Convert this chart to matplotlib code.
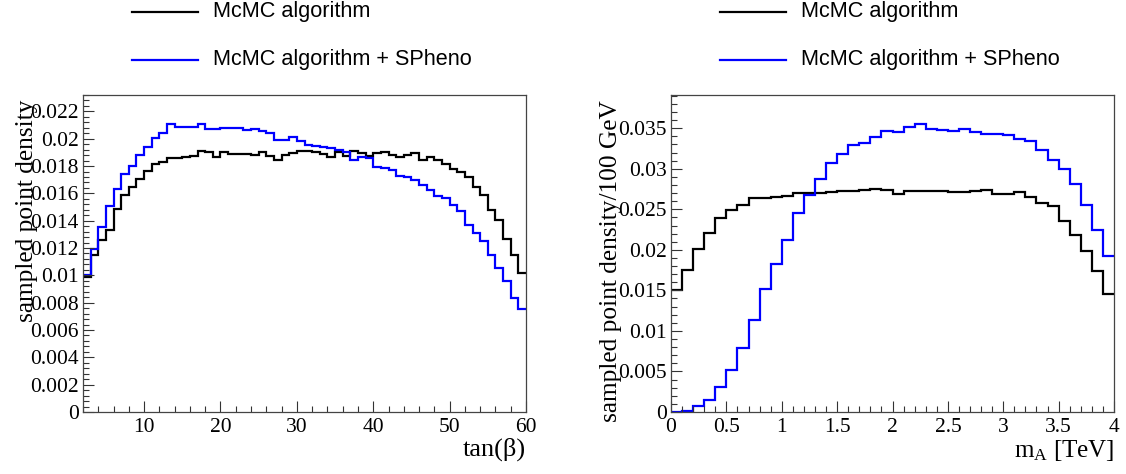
import numpy as np
import matplotlib
matplotlib.use("Agg")
import matplotlib.pyplot as plt
from matplotlib.ticker import MultipleLocator, FuncFormatter

# ---------------- data ----------------
tanb_edges = np.arange(2, 61, 1)
tanb_mcmc = [0.0099, 0.01146, 0.0126, 0.01334, 0.01488, 0.01585, 0.01646, 0.01705, 0.01766, 0.01817,
             0.0183, 0.01859, 0.01859, 0.01863, 0.0187, 0.01912, 0.019, 0.01863, 0.01905, 0.0189,
             0.0189, 0.01888, 0.01883, 0.01902, 0.0187, 0.01846, 0.01883, 0.01895, 0.01907, 0.01912,
             0.019, 0.01888, 0.01863, 0.019, 0.0187, 0.01907, 0.01895, 0.01876, 0.01895, 0.019,
             0.01883, 0.01863, 0.01883, 0.01895, 0.01846, 0.01863, 0.01846, 0.01817, 0.0178, 0.01754,
             0.0172, 0.01644, 0.0159, 0.01476, 0.01402, 0.01268, 0.01151, 0.01017]
tanb_spheno = [0.01005, 0.01195, 0.01356, 0.0151, 0.01632, 0.01744, 0.01802, 0.01883, 0.01937, 0.02005,
               0.02041, 0.02107, 0.02085, 0.02085, 0.02085, 0.02107, 0.0207, 0.0207, 0.02076, 0.02076,
               0.02078, 0.02066, 0.02072, 0.02054, 0.02040, 0.01993, 0.01993, 0.0201, 0.0198, 0.01956,
               0.0195, 0.0194, 0.0193, 0.0192, 0.0190, 0.01846, 0.01866, 0.0186, 0.01793, 0.01785,
               0.01773, 0.0173, 0.01717, 0.0170, 0.01663, 0.01627, 0.01583, 0.01566, 0.01517, 0.01473,
               0.01371, 0.0131, 0.01249, 0.01151, 0.01054, 0.00956, 0.00834, 0.00754]

mA_edges = np.round(np.arange(0, 4.01, 0.1), 2)
mA_mcmc = [0.015, 0.01754, 0.0201, 0.02206, 0.02391, 0.02486, 0.02555, 0.02638, 0.02638, 0.02658,
           0.02666, 0.02707, 0.027, 0.02707, 0.0271, 0.0272, 0.02728, 0.0274, 0.02749, 0.0274,
           0.02691, 0.02732, 0.02728, 0.02728, 0.02732, 0.02708, 0.02708, 0.02728, 0.0274, 0.02687,
           0.02687, 0.02708, 0.02646, 0.02584, 0.02535, 0.02362, 0.02186, 0.01989, 0.01734, 0.01459]
mA_spheno = [0.0, 0.00016, 0.00078, 0.00152, 0.00308, 0.00522, 0.00789, 0.01138, 0.01516, 0.01828,
             0.02124, 0.02453, 0.02679, 0.02872, 0.03069, 0.03184, 0.03295, 0.03324, 0.03398, 0.03468,
             0.03451, 0.03521, 0.03554, 0.03488, 0.0348, 0.03468, 0.03488, 0.03451, 0.03431, 0.03431,
             0.03418, 0.03365, 0.03344, 0.03233, 0.0311, 0.02999, 0.0281, 0.02556, 0.02247, 0.01919]

labels = ["McMC algorithm", "McMC algorithm + SPheno"]
colors = ["black", "#0000ff"]

# ---------------- style ----------------
plt.rcParams['font.family'] = ['Liberation Serif', 'DejaVu Serif']
plt.rcParams['mathtext.fontset'] = 'custom'
plt.rcParams['mathtext.rm'] = 'Liberation Serif'
plt.rcParams['mathtext.it'] = 'Liberation Serif:italic'

W, H = 1126, 474
fig = plt.figure(figsize=(W / 100, H / 100), dpi=100)

def frac(x0, y0, x1, y1):
    return [x0 / W, 1 - y1 / H, (x1 - x0) / W, (y1 - y0) / H]

ax1 = fig.add_axes(frac(83, 95, 526, 412))
ax2 = fig.add_axes(frac(671, 95, 1114, 412))

lw = 1.6
ax1.stairs(tanb_mcmc, tanb_edges, baseline=None, color=colors[0], lw=lw)
ax1.stairs(tanb_spheno, tanb_edges, baseline=None, color=colors[1], lw=lw)
ax2.stairs(mA_mcmc, mA_edges, baseline=None, color=colors[0], lw=lw)
ax2.stairs(mA_spheno, mA_edges, baseline=None, color=colors[1], lw=lw)

ax1.set_xlim(2, 60)
ax1.set_ylim(0, 0.0232)
ax2.set_xlim(0, 4)
ax2.set_ylim(0, 0.0391)

ax1.xaxis.set_major_locator(MultipleLocator(10))
ax1.xaxis.set_minor_locator(MultipleLocator(2))
ax1.yaxis.set_major_locator(MultipleLocator(0.002))
ax1.yaxis.set_minor_locator(MultipleLocator(0.0004))
ax2.xaxis.set_major_locator(MultipleLocator(0.5))
ax2.xaxis.set_minor_locator(MultipleLocator(0.1))
ax2.yaxis.set_major_locator(MultipleLocator(0.005))
ax2.yaxis.set_minor_locator(MultipleLocator(0.001))

def fmt(v, p):
    return ('%.4f' % v).rstrip('0').rstrip('.')

for ax in (ax1, ax2):
    ax.xaxis.set_major_formatter(FuncFormatter(fmt))
    ax.yaxis.set_major_formatter(FuncFormatter(fmt))
    ax.tick_params(which='both', direction='in', top=False, right=False, labelsize=15.5, width=0.8, color='#333333')
    ax.tick_params(which='major', length=8)
    ax.tick_params(which='minor', length=4)
    ax.tick_params(axis='x', pad=4)
    ax.tick_params(axis='y', pad=3)
    for s in ax.spines.values():
        s.set_linewidth(0.9)
        s.set_color('#444444')

ax1.set_xlabel('tan(β)', fontsize=19, loc='right', labelpad=1)
ax1.set_ylabel('sampled point density', fontsize=18.3, loc='top')
ax2.set_xlabel(r'm$_{\rm A}$ [TeV]', fontsize=18, loc='right', labelpad=1)
ax2.set_ylabel('sampled point density/100 GeV', fontsize=18.3, loc='top')
ax1.yaxis.set_label_coords(-0.102, 0.985)
ax2.yaxis.set_label_coords(-0.11, 0.985)

# legends (manual, in figure pixel coordinates)
for (x0, x1, xt) in [(132, 198, 213), (720, 786, 801)]:
    for i, yy in enumerate([12, 60]):
        fig.add_artist(plt.Line2D([x0 / W, x1 / W], [1 - yy / H, 1 - yy / H],
                                  color=colors[i], lw=lw, transform=fig.transFigure))
        fig.text(xt / W, 1 - yy / H, labels[i], fontsize=15.6, va='center', ha='left',
                 family=['Liberation Sans', 'DejaVu Sans'])

fig.savefig('out.png', dpi=100)
